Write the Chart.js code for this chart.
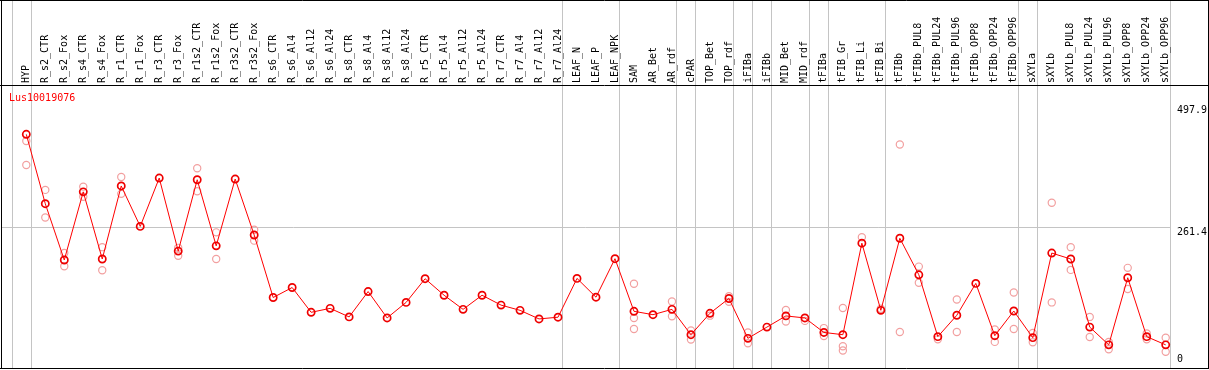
<!DOCTYPE html>
<html>
<head>
<meta charset="utf-8">
<title>Lus10019076</title>
<script src="https://cdn.jsdelivr.net/npm/chart.js@4.4.0/dist/chart.umd.min.js"></script>
<style>
  html, body { margin: 0; padding: 0; background: #fff; }
  #wrap { width: 1209px; height: 370px; position: relative; }
</style>
</head>
<body>
<div id="wrap"><canvas id="chart"></canvas></div>
<script>
// --- data ---
const geneId = 'Lus10019076';

const categories = [
    'HYP', 'R_s2_CTR', 'R_s2_Fox', 'R_s4_CTR', 'R_s4_Fox', 'R_r1_CTR', 'R_r1_Fox', 'R_r3_CTR', 'R_r3_Fox',
    'R_r1s2_CTR', 'R_r1s2_Fox', 'R_r3s2_CTR', 'R_r3s2_Fox',
    'R_s6_CTR', 'R_s6_Al4', 'R_s6_Al12', 'R_s6_Al24', 'R_s8_CTR', 'R_s8_Al4', 'R_s8_Al12', 'R_s8_Al24',
    'R_r5_CTR', 'R_r5_Al4', 'R_r5_Al12', 'R_r5_Al24', 'R_r7_CTR', 'R_r7_Al4', 'R_r7_Al12', 'R_r7_Al24',
    'LEAF_N', 'LEAF_P', 'LEAF_NPK', 'SAM', 'AR_Bet', 'AR_rdf', 'cPAR', 'TOP_Bet', 'TOP_rdf',
    'iFIBa', 'iFIBb', 'MID_Bet', 'MID_rdf', 'tFIBa', 'tFIB_Gr', 'tFIB_Li', 'tFIB_Bi',
    'tFIBb', 'tFIBb_PUL8', 'tFIBb_PUL24', 'tFIBb_PUL96', 'tFIBb_OPP8', 'tFIBb_OPP24', 'tFIBb_OPP96',
    'sXYLa', 'sXYLb', 'sXYLb_PUL8', 'sXYLb_PUL24', 'sXYLb_PUL96', 'sXYLb_OPP8', 'sXYLb_OPP24', 'sXYLb_OPP96'
];

// mean expression (connected line)
const meanValues = [
    440.7, 306.6, 197.8, 329.5, 199.7, 340.9, 262.7, 356.2, 215.0, 352.9, 225.1, 354.3, 246.1,
    125.3, 144.6, 96.7, 104.3, 87.8, 136.8, 85.8, 115.8, 161.6, 129.7, 102.4, 129.7, 110.6, 100.5, 83.9, 87.2,
    162.2, 125.9, 200.3, 98.6, 92.1, 102.4, 53.4, 94.8, 123.4, 46.4, 68.1, 89.7, 85.8, 57.8, 53.4, 230.3, 100.5,
    239.8, 169.2, 49.6, 91.0, 152.6, 51.5, 99.2, 47.7, 211.2, 199.7, 68.1, 33.8, 163.5, 49.6, 33.8
];

// individual replicates (pale circles)
const rep1 = [
    427.9, 333.3, 211.2, 339.6, 222.6, 358.1, null, null, 221.3, 375.2, 251.2, null, 256.2,
    null, null, null, null, null, null, null, null, null, null, null, null, null, null, null, null,
    null, null, null, 152.0, null, 117.7, 61.6, 90.2, 127.8, 57.8, null, 101.1, 80.1, 66.2, 104.9, 241.7, 103.6,
    421.0, 185.0, 44.4, 121.5, null, 63.5, 134.9, 56.7, 308.5, 222.6, 87.8, 39.5, 182.6, 55.9, 47.7
];
const rep2 = [
    381.5, 279.9, 185.6, 319.9, 178.0, 325.6, null, null, 206.0, 330.6, 199.7, null, 235.2,
    null, null, null, null, null, null, null, null, null, null, null, null, null, null, null, null,
    null, null, null, 85.8, null, 89.1, 43.9, null, 116.9, 36.8, null, 78.8, null, 50.9, 31.1, null, null,
    58.6, 153.9, null, 58.6, null, 39.5, 64.3, 38.7, 115.8, 178.7, 49.0, 25.4, 141.7, 44.4, 20.4
];
const rep3 = [
    null, null, null, null, null, null, null, null, null, null, null, null, null,
    null, null, null, null, null, null, null, null, null, null, null, null, null, null, null, null,
    null, null, null, 64.3, null, null, null, null, null, null, null, null, null, null, 22.9, null, null,
    null, null, null, null, null, null, null, null, null, null, null, null, null, null, null
];

// index of the last category in each group (a separator line follows it)
const groupEnds = [-1, 0, 28, 31, 34, 35, 37, 38, 39, 41, 42, 45, 52, 53, 60];
const yTickValues = [0, 261.4, 497.9];
const gridValue = 261.4;

const MONO = "'DejaVu Sans Mono', 'Liberation Mono', monospace";
const SEP_OFFSET = 4.4;

// --- frame, separators, right-hand values, title ---
const framePlugin = {
    id: 'frame',
    beforeDraw(chart) {
        const { ctx, width, height } = chart;
        const { x, y } = chart.scales;
        ctx.save();
        ctx.fillStyle = '#fff';
        ctx.fillRect(0, 0, width, height);

        ctx.strokeStyle = '#c4c4c4';
        ctx.lineWidth = 1;
        ctx.beginPath();
        groupEnds.forEach(i => {
            const px = Math.round(x.getPixelForValue(i) + SEP_OFFSET) + 0.5;
            ctx.moveTo(px, 0);
            ctx.lineTo(px, 368);
        });
        const lastX = Math.round(x.getPixelForValue(groupEnds[groupEnds.length - 1]) + SEP_OFFSET) + 0.5;
        const gy = Math.floor(y.getPixelForValue(gridValue)) + 0.5;
        ctx.moveTo(1, gy);
        ctx.lineTo(lastX, gy);
        ctx.stroke();
        ctx.restore();
    },
    afterDraw(chart) {
        const { ctx } = chart;
        const { y } = chart.scales;
        ctx.save();
        ctx.strokeStyle = '#000';
        ctx.lineWidth = 1;
        ctx.beginPath();
        ctx.moveTo(0, 0.5); ctx.lineTo(1209, 0.5);
        ctx.moveTo(0, 85.5); ctx.lineTo(1209, 85.5);
        ctx.moveTo(0, 368.5); ctx.lineTo(1209, 368.5);
        ctx.moveTo(1.5, 0); ctx.lineTo(1.5, 369);
        ctx.moveTo(1208.5, 0); ctx.lineTo(1208.5, 369);
        ctx.stroke();

        ctx.font = '10px ' + MONO;
        ctx.textAlign = 'left';
        ctx.textBaseline = 'alphabetic';
        ctx.fillStyle = '#000';
        yTickValues.forEach(v => {
            const py = y.getPixelForValue(v);
            const base = v === 0 ? py : py + 8;
            ctx.fillText(String(v), 1177, Math.round(base));
        });

        ctx.fillStyle = '#ff0000';
        ctx.fillText(geneId, 9, 101);
        ctx.restore();
    }
};

const repStyle = {
    showLine: false,
    pointStyle: 'circle',
    pointRadius: 3.6,
    pointBorderWidth: 1.2,
    pointBorderColor: '#f2a0a0',
    pointBackgroundColor: 'rgba(0,0,0,0)'
};

const ctx = document.getElementById('chart').getContext('2d');
new Chart(ctx, {
    type: 'line',
    data: {
        labels: categories,
        datasets: [
            {
                label: 'mean',
                data: meanValues,
                borderColor: '#ff0000',
                borderWidth: 1,
                pointStyle: 'circle',
                pointRadius: 3.6,
                pointBorderWidth: 1.7,
                pointBorderColor: '#ee0000',
                pointBackgroundColor: 'rgba(0,0,0,0)',
                fill: false,
                tension: 0
            },
            { label: 'rep1', data: rep1, ...repStyle },
            { label: 'rep2', data: rep2, ...repStyle },
            { label: 'rep3', data: rep3, ...repStyle }
        ]
    },
    options: {
        responsive: true,
        maintainAspectRatio: false,
        animation: false,
        events: [],
        layout: {
            padding: { left: 16.8, right: 33.8, top: 0, bottom: 2 }
        },
        plugins: {
            legend: { display: false },
            tooltip: { enabled: false },
            title: { display: false }
        },
        scales: {
            x: {
                type: 'category',
                position: 'top',
                offset: true,
                grid: { display: false, drawTicks: false },
                border: { display: false },
                ticks: {
                    autoSkip: false,
                    minRotation: 90,
                    maxRotation: 90,
                    padding: 3,
                    labelOffset: 12,
                    color: '#000',
                    font: { family: MONO, size: 10 }
                },
                afterFit(scale) { scale.height = 86; }
            },
            y: {
                display: false,
                min: -3.8,
                max: 534.1
            }
        }
    },
    plugins: [framePlugin]
});
</script>
</body>
</html>
